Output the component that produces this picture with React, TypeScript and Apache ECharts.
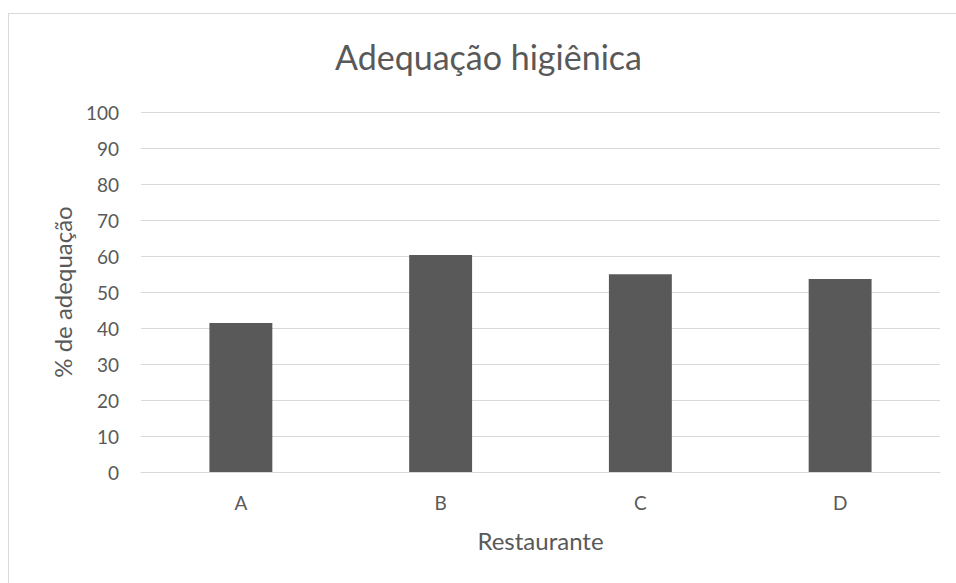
import React, { useEffect, useRef } from "react";
import * as echarts from "echarts";

const categories = ["A", "B", "C", "D"];
const values = [41.4, 60.3, 54.9, 53.6];
const yTicks = { min: 0, max: 100, interval: 10 };
const titleText = "Adequação higiênica";
const xName = "Restaurante";
const yName = "% de adequação";

export default function App() {
  const ref = useRef<HTMLDivElement>(null);
  useEffect(() => {
    if (!ref.current) return;
    const chart = echarts.init(ref.current, null, { renderer: "svg" });
    const font = "Lato, 'Open Sans', sans-serif";
    chart.setOption({
      animation: false,
      backgroundColor: "#ffffff",
      title: {
        text: titleText,
        left: "center",
        top: 20,
        textStyle: { fontFamily: font, fontSize: 34, fontWeight: "normal", color: "#595959" },
      },
      grid: { left: 132, top: 98, width: 799, height: 360 },
      xAxis: {
        type: "category",
        data: categories,
        name: xName,
        nameLocation: "middle",
        nameGap: 56,
        nameTextStyle: { fontFamily: font, fontSize: 24, color: "#595959" },
        axisLine: { lineStyle: { color: "#d9d9d9", width: 1 } },
        axisTick: { show: false },
        axisLabel: { fontFamily: font, fontSize: 19, color: "#595959", margin: 21 },
      },
      yAxis: {
        type: "value",
        min: yTicks.min,
        max: yTicks.max,
        interval: yTicks.interval,
        name: yName,
        nameLocation: "middle",
        nameGap: 67,
        nameTextStyle: { fontFamily: font, fontSize: 24, color: "#595959" },
        axisLine: { show: false },
        axisTick: { show: false },
        axisLabel: { fontFamily: font, fontSize: 19, color: "#595959", margin: 22 },
        splitLine: { lineStyle: { color: "#d9d9d9", width: 1 } },
      },
      series: [
        {
          type: "bar",
          data: values,
          barWidth: "31.5%",
          itemStyle: { color: "#595959" },
        },
      ],
    });
    return () => chart.dispose();
  }, []);
  return (
    <div
      style={{
        position: "fixed",
        left: 8,
        top: 13,
        width: 960,
        height: 580,
        borderTop: "1px solid #d9d9d9",
        borderLeft: "1px solid #d9d9d9",
        boxSizing: "border-box",
        background: "#fff",
      }}
    >
      <div ref={ref} style={{ width: 959, height: 579 }} />
    </div>
  );
}
